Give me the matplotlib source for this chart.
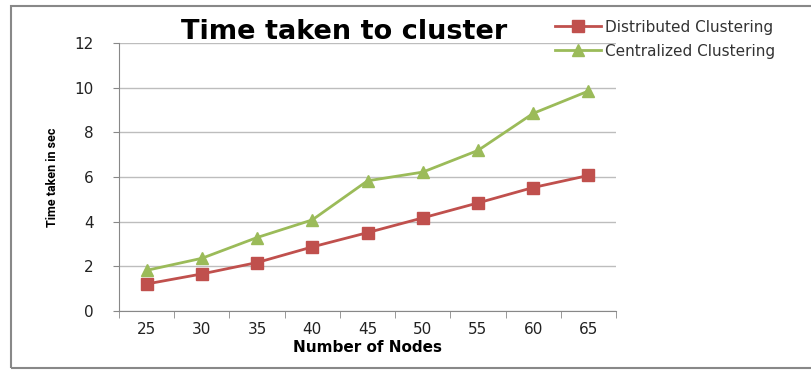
import numpy as np
import matplotlib.pyplot as plt
from matplotlib.patches import Rectangle

# Data
nodes = ['25', '30', '35', '40', '45', '50', '55', '60', '65']
distributed = [1.21, 1.66, 2.17, 2.87, 3.51, 4.17, 4.84, 5.53, 6.07]
centralized = [1.82, 2.36, 3.29, 4.08, 5.83, 6.22, 7.19, 8.85, 9.85]

red = '#C0504D'
green = '#9BBB59'

fig = plt.figure(figsize=(8.11, 3.71), dpi=100)
ax = fig.add_axes([0.1467, 0.1617, 0.6129, 0.7223])

x = np.arange(len(nodes))
ax.plot(x, distributed, color=red, marker='s', markersize=8.5, linewidth=2,
        label='Distributed Clustering')
ax.plot(x, centralized, color=green, marker='^', markersize=8.5, linewidth=2,
        label='Centralized Clustering')

ax.set_xlim(-0.5, len(nodes) - 0.5)
ax.set_ylim(0, 12)
ax.set_yticks(range(0, 13, 2))
ax.grid(axis='y', color='#bdbdbd', linewidth=1)
ax.set_axisbelow(True)

# category labels centred, tick marks at the boundaries
ax.set_xticks(x)
ax.set_xticklabels(nodes)
ax.tick_params(axis='x', length=0, pad=8, labelsize=11, colors='#222222')
ax.set_xticks(np.arange(-0.5, len(nodes)), minor=True)
ax.tick_params(axis='x', which='minor', length=5, color='#888888', direction='out')
ax.tick_params(axis='y', length=4, color='#888888', labelsize=11, colors='#222222', pad=14)

for side in ['top', 'right']:
    ax.spines[side].set_visible(False)
for side in ['left', 'bottom']:
    ax.spines[side].set_color('#888888')

ax.set_xlabel('Number of Nodes', fontsize=11, fontweight='bold', labelpad=2)
ax.set_ylabel('Time taken in sec', fontsize=9, fontweight='bold',
              family='Roboto', labelpad=11)

fig.text(0.424, 0.915, 'Time taken to cluster', fontsize=19.5, fontweight='bold',
         ha='center', va='center')

leg = ax.legend(loc='upper left', bbox_to_anchor=(0.865, 1.11), frameon=False,
                fontsize=11, handlelength=3, handletextpad=0.3, labelspacing=0.6,
                borderaxespad=0)
for t in leg.get_texts():
    t.set_color('#333333')

# grey frame around the picture
fig.patches.append(Rectangle((0.013, 0.008), 1.0, 0.975, transform=fig.transFigure,
                             fill=False, edgecolor='#888888', linewidth=1.5))

plt.savefig('out.png', dpi=100)
